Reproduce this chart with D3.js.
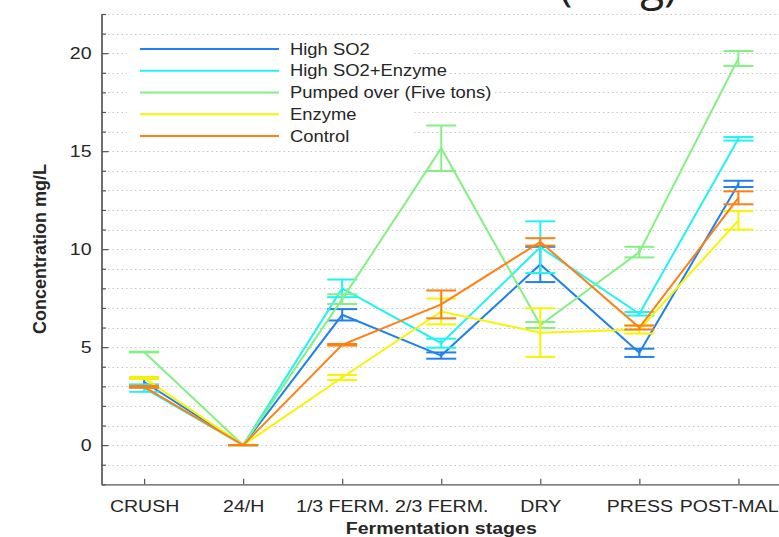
<!DOCTYPE html>
<meta charset="utf-8">
<style>
	body { margin: 0; background: #fff; }
	svg { display: block; font-family: "Liberation Sans", Arial, sans-serif; }
	.grid line { stroke: #c8c8c8; stroke-width: 1px; stroke-dasharray: 1.5,3; }
	.axis path, .axis line { stroke: #555; stroke-width: 1.2px; }
	.axis text { fill: #262626; font-size: 17px; font-family: "Liberation Sans", Arial, sans-serif; }
	.line { fill: none; stroke-width: 2px; }
	.err { stroke-width: 2px; }
	.legend text { fill: #262626; font-size: 16px; }
</style>
<svg width="779" height="537"></svg>
<script src="https://d3js.org/d3.v7.min.js"></script>
<script>

var stages = ["CRUSH", "24/H", "1/3 FERM.", "2/3 FERM.", "DRY", "PRESS", "POST-MAL"];
var seriesNames = ["High SO2", "High SO2+Enzyme", "Pumped over (Five tons)", "Enzyme", "Control"];
var colors = ["#1f80f0", "#22f2f2", "#84f084", "#f8f400", "#ff7f12"];

// means and error bar half-lengths, one value per stage
var highSO2      = [3.22, 0, 6.65, 4.57, 9.22, 4.71, 13.33];
var highSO2Err   = [0.23, 0, 0.29, 0.16, 0.90, 0.21, 0.16];
var highSO2Enz    = [2.91, 0, 8.00, 5.20, 10.10, 6.70, 15.63];
var highSO2EnzErr = [0.19, 0, 0.45, 0.23, 1.32, 0.09, 0.09];
var pumped       = [4.75, 0, 7.45, 15.15, 6.13, 9.85, 19.73];
var pumpedErr    = [0.02, 0, 0.25, 1.16, 0.15, 0.27, 0.38];
var enzyme       = [3.42, 0, 3.45, 6.82, 5.74, 5.90, 11.47];
var enzymeErr    = [0.05, 0, 0.13, 0.66, 1.24, 0.21, 0.47];
var control      = [2.97, 0, 5.12, 7.18, 10.37, 6.00, 12.62];
var controlErr   = [0.05, 0, 0.04, 0.71, 0.19, 0.10, 0.33];

var yMajor = [0, 5, 10, 15, 20];

var means = [highSO2, highSO2Enz, pumped, enzyme, control];
var errs = [highSO2Err, highSO2EnzErr, pumpedErr, enzymeErr, controlErr];

var sx = 1.15; // the original text is slightly wide

var svg = d3.select("svg"),
	plotL = 101.5, plotR = 781, plotT = 14, plotB = 484.3;

var x = d3.scalePoint().domain(stages).range([plotL, plotR]).padding(0.43),
	y = d3.scaleLinear().domain([-2, 22]).range([plotB, plotT]);

// title, mostly above the top edge: only its descenders show
svg.append("text")
	.attr("x", 677)
	.attr("y", 0)
	.attr("text-anchor", "end")
	.style("font-family", "'Open Sans', sans-serif")
	.style("font-size", "44px")
	.style("fill", "#222")
	.text("(ml/g)");

// dotted grid at every unit
svg.append("g")
	.attr("class", "grid")
	.selectAll("line")
	.data(d3.range(-1, 23))
	.enter().append("line")
	.attr("x1", plotL + 2)
	.attr("x2", 779)
	.attr("y1", function(d) { return Math.round(y(d)) + 0.5; })
	.attr("y2", function(d) { return Math.round(y(d)) + 0.5; });

// axes
var gx = svg.append("g")
	.attr("class", "axis axis--x")
	.attr("transform", "translate(0," + plotB + ")")
	.call(d3.axisBottom(x).tickSizeInner(-5.5).tickSizeOuter(0).tickPadding(15.5));
gx.selectAll("text").attr("transform", "scale(" + sx + ",1)");
// last label is kept inside the figure
gx.selectAll("text").filter(function(d) { return d == stages[stages.length - 1]; })
	.attr("text-anchor", "end")
	.attr("x", (778 - x(stages[stages.length - 1])) / sx);

svg.append("g")
	.attr("class", "axis axis--ymin")
	.attr("transform", "translate(" + plotL + ",0)")
	.call(d3.axisLeft(y).tickValues(d3.range(-2, 23).filter(function(d) { return yMajor.indexOf(d) < 0; }))
		.tickSizeInner(-4.5).tickSizeOuter(0).tickFormat(""));

var gy = svg.append("g")
	.attr("class", "axis axis--y")
	.attr("transform", "translate(" + plotL + ",0)")
	.call(d3.axisLeft(y).tickValues(yMajor).tickSizeInner(-7).tickSizeOuter(0).tickPadding(10));
gy.selectAll("text").attr("x", -10 / sx).attr("transform", "scale(" + sx + ",1)");

svg.append("text")
	.attr("transform", "translate(" + ((plotL + plotR) / 2) + ",534) scale(" + sx + ",1)")
	.attr("text-anchor", "middle")
	.style("font-weight", "bold")
	.style("font-size", "17px")
	.style("fill", "#262626")
	.text("Fermentation stages");

svg.append("text")
	.attr("transform", "translate(46,249) rotate(-90)")
	.attr("text-anchor", "middle")
	.style("font-weight", "bold")
	.style("font-size", "18px")
	.style("fill", "#262626")
	.text("Concentration mg/L");

// series
var line = d3.line()
	.x(function(d, i) { return x(stages[i]); })
	.y(function(d) { return y(d); });

var series = svg.selectAll(".series")
	.data(means)
	.enter().append("g")
	.attr("class", "series")
	.style("stroke", function(d, i) { return colors[i]; });

series.append("path")
	.attr("class", "line")
	.attr("d", function(d) { return line(d); });

series.each(function(m, k) {
	var g = d3.select(this);
	m.forEach(function(v, i) {
		var cx = x(stages[i]), e = errs[k][i];
		var eb = g.append("g").attr("class", "err");
		eb.append("line").attr("x1", cx).attr("x2", cx).attr("y1", y(v - e)).attr("y2", y(v + e));
		eb.append("line").attr("x1", cx - 15).attr("x2", cx + 15).attr("y1", y(v + e)).attr("y2", y(v + e));
		eb.append("line").attr("x1", cx - 15).attr("x2", cx + 15).attr("y1", y(v - e)).attr("y2", y(v - e));
	});
});

// legend
var legend = svg.append("g").attr("class", "legend");
legend.append("rect")
	.attr("x", 127).attr("y", 39)
	.attr("width", 284).attr("height", 107)
	.style("fill", "#fff");

seriesNames.forEach(function(name, i) {
	var ly = 49 + i * 21.75;
	legend.append("line")
		.attr("x1", 140).attr("x2", 279)
		.attr("y1", ly).attr("y2", ly)
		.style("stroke", colors[i])
		.style("stroke-width", 2);
	var tg = legend.append("g").attr("transform", "translate(290," + ly + ") scale(" + sx + ",1)");
	var t = tg.append("text").attr("dy", "0.35em").text(name);
	var b = t.node().getBBox();
	tg.insert("rect", "text")
		.attr("x", b.x).attr("y", b.y)
		.attr("width", b.width + 1).attr("height", b.height)
		.style("fill", "#fff");
});

</script>
